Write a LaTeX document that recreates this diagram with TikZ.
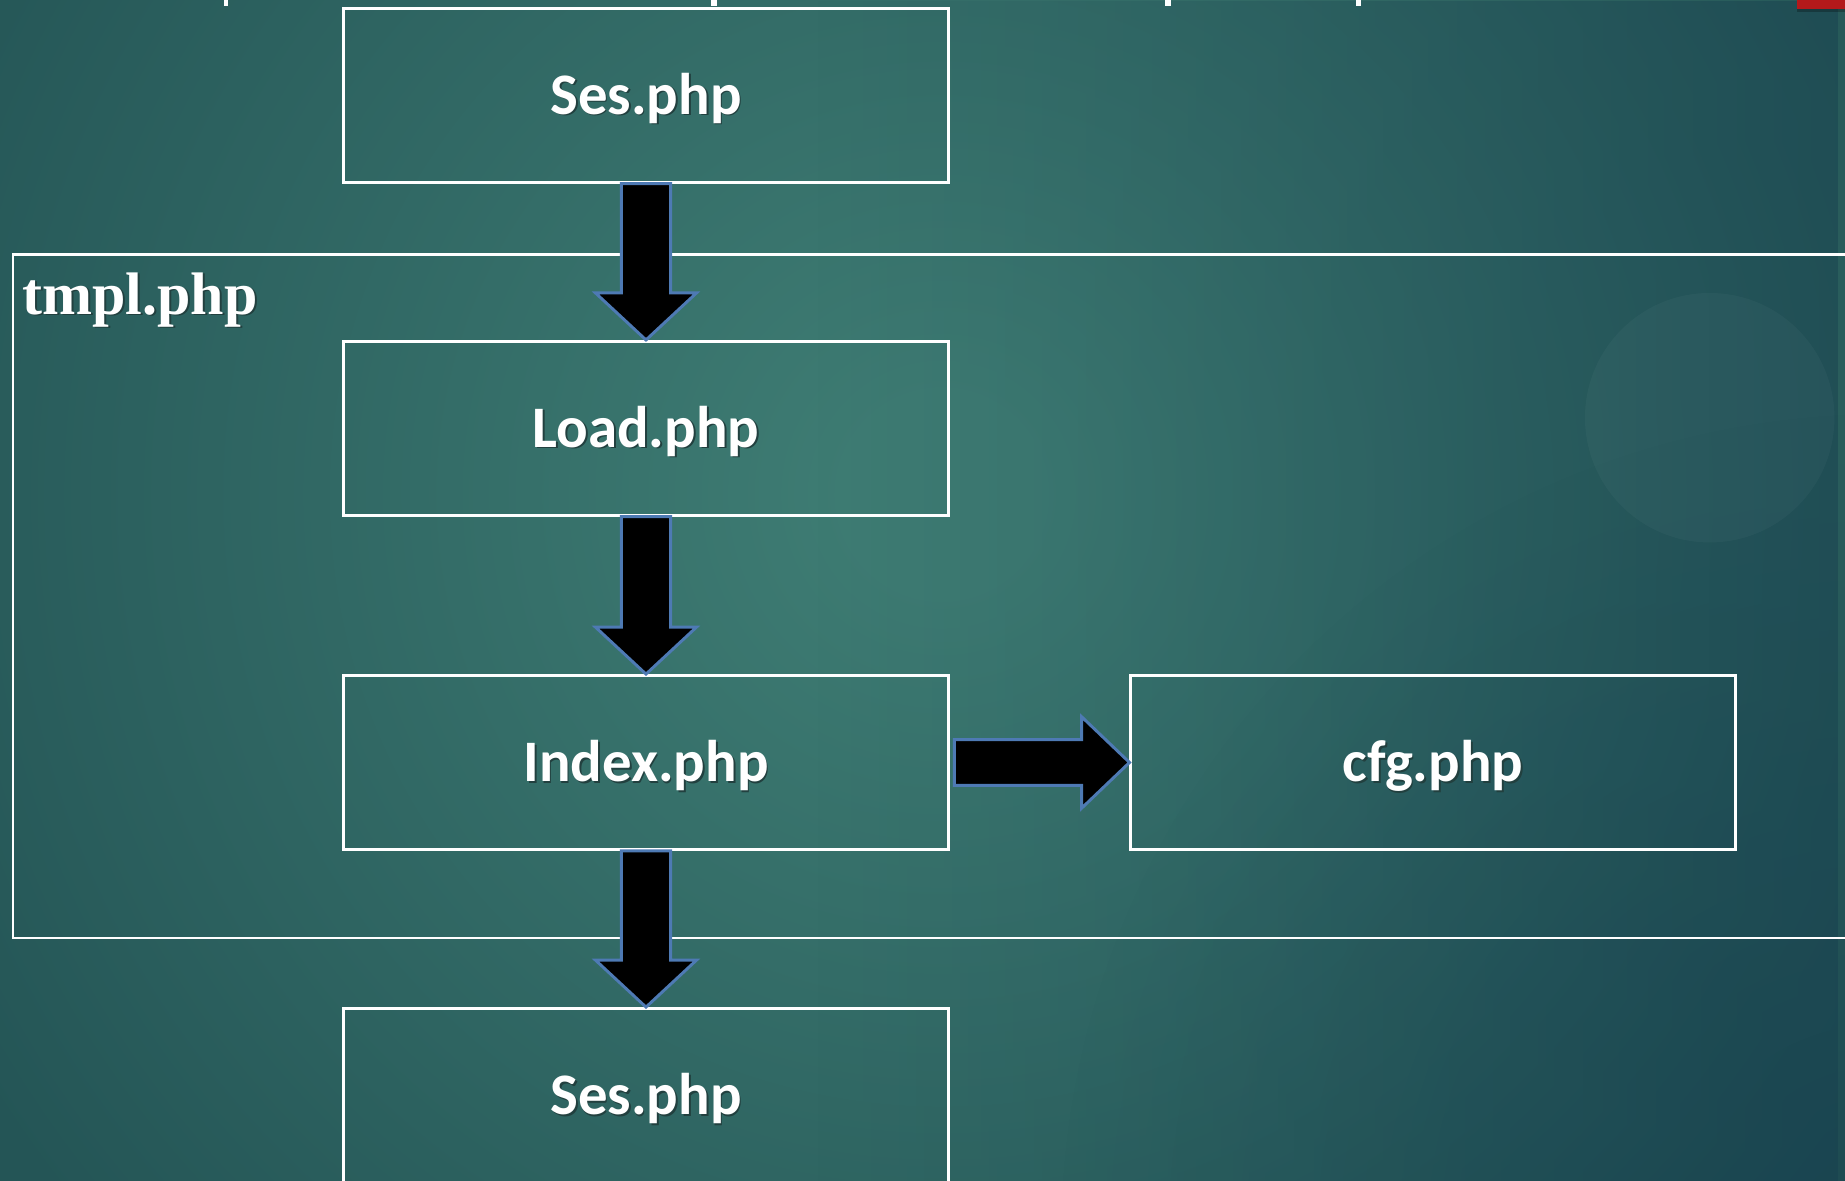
\documentclass[tikz,border=0pt]{standalone}
\usepackage{fontspec}
\setmainfont{Carlito}
\newfontfamily\serifb{Liberation Serif}
\usetikzlibrary{calc,fadings}
\definecolor{bgc}{HTML}{3E7C73}
\definecolor{bgo}{HTML}{245556}
\definecolor{bgd}{HTML}{163E4E}
\definecolor{arrowedge}{HTML}{4E7AB4}
\definecolor{redbar}{HTML}{B3191B}
\definecolor{txtshadow}{HTML}{22403F}
% radial shadings and fadings: 25bp corresponds to the edge of the shaded path
\pgfdeclareradialshading{bgshade}{\pgfpoint{0bp}{0bp}}{color(0bp)=(bgc); color(2bp)=(bgc); color(24bp)=(bgo); color(50bp)=(bgo)}
\pgfdeclarehorizontalshading{rdkshade}{100bp}{color(0bp)=(pgftransparent!100); color(47bp)=(pgftransparent!100); color(75bp)=(pgftransparent!0); color(100bp)=(pgftransparent!0)}
\pgfdeclarefading{rightdark}{\pgfuseshading{rdkshade}}
\pgfdeclareradialshading{vigshade}{\pgfpoint{0bp}{0bp}}{color(0bp)=(pgftransparent!0); color(25bp)=(pgftransparent!100); color(50bp)=(pgftransparent!100)}
\pgfdeclarefading{vig}{\pgfuseshading{vigshade}}
\newcommand\shtxt[1]{\leavevmode\rlap{\hspace{1.5pt}\raisebox{-1.5pt}{\textcolor{txtshadow}{#1}}}#1}
\begin{document}
\begin{tikzpicture}[x=1pt,y=-1pt,
  filebox/.style={draw=white, line width=2.2pt, minimum width=514pt, minimum height=148pt, inner sep=0pt, text height=34pt, text depth=2pt, text=white, font=\fontsize{50}{60}\selectfont\bfseries},
  blockarrow/.style={fill=black, draw=arrowedge, line width=2.5pt, line join=miter}]
\useasboundingbox (0,0) rectangle (1568,1003);
\begin{scope}
\clip (0,0) rectangle (1568,1003);
% background
\shade[shading=bgshade] (800,420) circle (1000);
\fill[bgd, path fading=rightdark, fill opacity=0.45] (0,0) rectangle (1568,1003);
\fill[bgd, path fading=vig, fill opacity=0.45] (1600,1050) circle (700);
\fill[white, fill opacity=0.03] (1453,355) circle (106);
% cropped title fragments and red bar
\fill[white] (190,0) rectangle (194,5);
\fill[white] (604,0) rectangle (609,5);
\fill[white] (990,0) rectangle (995,5);
\fill[white] (1152,0) rectangle (1157,5);
\fill[black, fill opacity=0.25] (1527,0) rectangle (1568,10);
\fill[redbar] (1527,0) rectangle (1568,8);
% container
\node[draw=white, line width=2.2pt, minimum width=1580pt, minimum height=581pt, inner sep=0pt, anchor=north west] (tmpl) at (10,215) {};
\node[anchor=base west, inner sep=0pt, text=white, font=\serifb\bfseries\fontsize{51}{58}\selectfont] (tmpllabel) at (19,267) {\shtxt{tmpl.php}};
% file boxes
\node[filebox] (ses1) at (549,81) {\shtxt{Ses.php}};
\node[filebox] (load) at (549,364) {\shtxt{Load.php}};
\node[filebox] (index) at (549,648) {\shtxt{Index.php}};
\node[filebox] (cfg) at (1218,648) {\shtxt{cfg.php}};
\node[filebox] (ses2) at (549,931) {\shtxt{Ses.php}};
% block arrows
\foreach \a/\b in {ses1/load, load/index, index/ses2}{
  \draw[blockarrow] let \p1=(\a.south), \p2=(\b.north) in
    (\x1-21pt,\y1) -- (\x1+21pt,\y1) -- (\x1+21pt,\y2+40pt) -- (\x1+43pt,\y2+40pt)
    -- (\x2,\y2) -- (\x1-43pt,\y2+40pt) -- (\x1-21pt,\y2+40pt) -- cycle;
}
\draw[blockarrow] let \p1=(index.east), \p2=(cfg.west) in
  (\x1+4pt,\y1-19.4pt) -- (\x2-40.6pt,\y1-19.4pt) -- (\x2-40.6pt,\y1-38.8pt)
  -- (\x2,\y1) -- (\x2-40.6pt,\y1+38.8pt) -- (\x2-40.6pt,\y1+19.4pt)
  -- (\x1+4pt,\y1+19.4pt) -- cycle;
\end{scope}
\end{tikzpicture}
\end{document}
